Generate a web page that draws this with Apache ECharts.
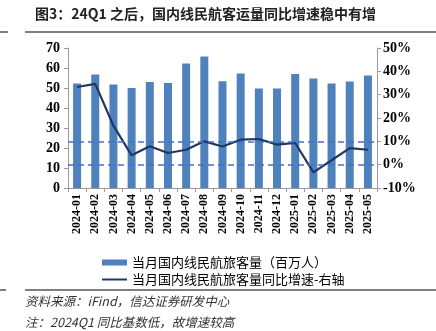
<!DOCTYPE html>
<html><head><meta charset="utf-8">
<script src="https://cdn.jsdelivr.net/npm/echarts@6/dist/echarts.min.js"></script>
<style>html,body{margin:0;padding:0;background:#fff}#c{width:436px;height:331px}</style>
</head><body><div id="c"></div>
<script>
var categories = ['2024-01','2024-02','2024-03','2024-04','2024-05','2024-06','2024-07','2024-08','2024-09','2024-10','2024-11','2024-12','2025-01','2025-02','2025-03','2025-04','2025-05'];
var passengers = [52.2, 56.8, 51.7, 50.0, 53.0, 52.5, 62.2, 65.7, 53.4, 57.3, 49.8, 49.7, 57.0, 54.7, 52.3, 53.3, 56.3];
var yoyGrowth = [33.3, 34.6, 16.7, 4.0, 7.9, 5.0, 6.4, 10.0, 7.8, 10.7, 11.0, 8.6, 9.3, -3.3, 1.9, 7.1, 6.4];
var refLines = [0, 10];
var titleText = '图3：24Q1 之后，国内线民航客运量同比增速稳中有增';
var sourceText = '资料来源：iFind，信达证券研发中心';
var noteText = '注：2024Q1 同比基数低，故增速较高';
var barName = '当月国内线民航旅客量（百万人）';
var lineName = '当月国内线民航旅客量同比增速-右轴';

var serif = '"Liberation Serif","Times New Roman",serif';
var cjk = '"Noto Sans CJK SC",sans-serif';
var chart = echarts.init(document.getElementById('c'), null, {renderer:'canvas'});
chart.setOption({
  animation: false,
  grid: {left: 68, right: 59, top: 48, bottom: 143},
  legend: {
    orient: 'vertical', left: 97, top: 251, itemGap: 4,
    itemWidth: 25, itemHeight: 6,
    textStyle: {fontFamily: cjk, fontSize: 13, color: '#000'},
    data: [
      {name: barName, icon: 'rect'},
      {name: lineName, icon: 'path://M0,0L0,6M0,2.1H25V3.9H0Z'}
    ]
  },
  xAxis: {
    type: 'category', data: categories,
    axisLine: {lineStyle: {color: '#9a9a9a'}},
    axisTick: {show: true, length: 4, lineStyle: {color: '#9a9a9a'}},
    axisLabel: {rotate: 90, fontFamily: serif, fontWeight: 'bold', fontSize: 12, color: '#000', margin: 6}
  },
  yAxis: [
    {type: 'value', min: 0, max: 70, interval: 10,
     splitLine: {show: false},
     axisLine: {show: true, lineStyle: {color: '#9a9a9a'}},
     axisTick: {show: true, length: 4, lineStyle: {color: '#9a9a9a'}},
     axisLabel: {fontFamily: serif, fontWeight: 'bold', fontSize: 14, color: '#000', margin: 8}},
    {type: 'value', min: -10, max: 50, interval: 10,
     splitLine: {show: false},
     axisLine: {show: true, lineStyle: {color: '#9a9a9a'}},
     axisTick: {show: true, length: 4, lineStyle: {color: '#9a9a9a'}},
     axisLabel: {formatter: '{value}%', fontFamily: serif, fontWeight: 'bold', fontSize: 14, color: '#000', margin: 6}}
  ],
  series: [
    {name: barName, type: 'bar', data: passengers, barWidth: 8,
     itemStyle: {color: '#4F81BD'}},
    {name: lineName, type: 'line', yAxisIndex: 1, data: yoyGrowth,
     symbol: 'none', lineStyle: {color: '#1F3864', width: 2.2}, itemStyle: {color: '#1F3864'},
     markLine: {silent: true, symbol: 'none', label: {show: false},
       lineStyle: {color: '#4472C4', type: [6, 4], width: 1.6},
       data: refLines.map(function(v){ return {yAxis: v}; })}}
  ],
  graphic: [
    {type: 'text', left: 35, top: 7, style: {text: titleText, font: 'bold 14px ' + cjk, fill: '#222'}},
    {type: 'line', shape: {x1: 25, y1: 32, x2: 436, y2: 32}, style: {stroke: '#555', lineWidth: 1.5}},
    {type: 'line', shape: {x1: 0, y1: 32, x2: 8, y2: 32}, style: {stroke: '#555', lineWidth: 1.5}},
    {type: 'line', shape: {x1: 25, y1: 290, x2: 436, y2: 290}, style: {stroke: '#555', lineWidth: 1.5}},
    {type: 'line', shape: {x1: 0, y1: 290, x2: 6, y2: 290}, style: {stroke: '#555', lineWidth: 1.5}},
    {type: 'text', left: 25, top: 295, style: {text: sourceText, font: 'italic 12.5px ' + cjk, fill: '#333'}},
    {type: 'text', left: 25, top: 316, style: {text: noteText, font: 'italic 12.5px ' + cjk, fill: '#333'}}
  ]
});
</script></body></html>
